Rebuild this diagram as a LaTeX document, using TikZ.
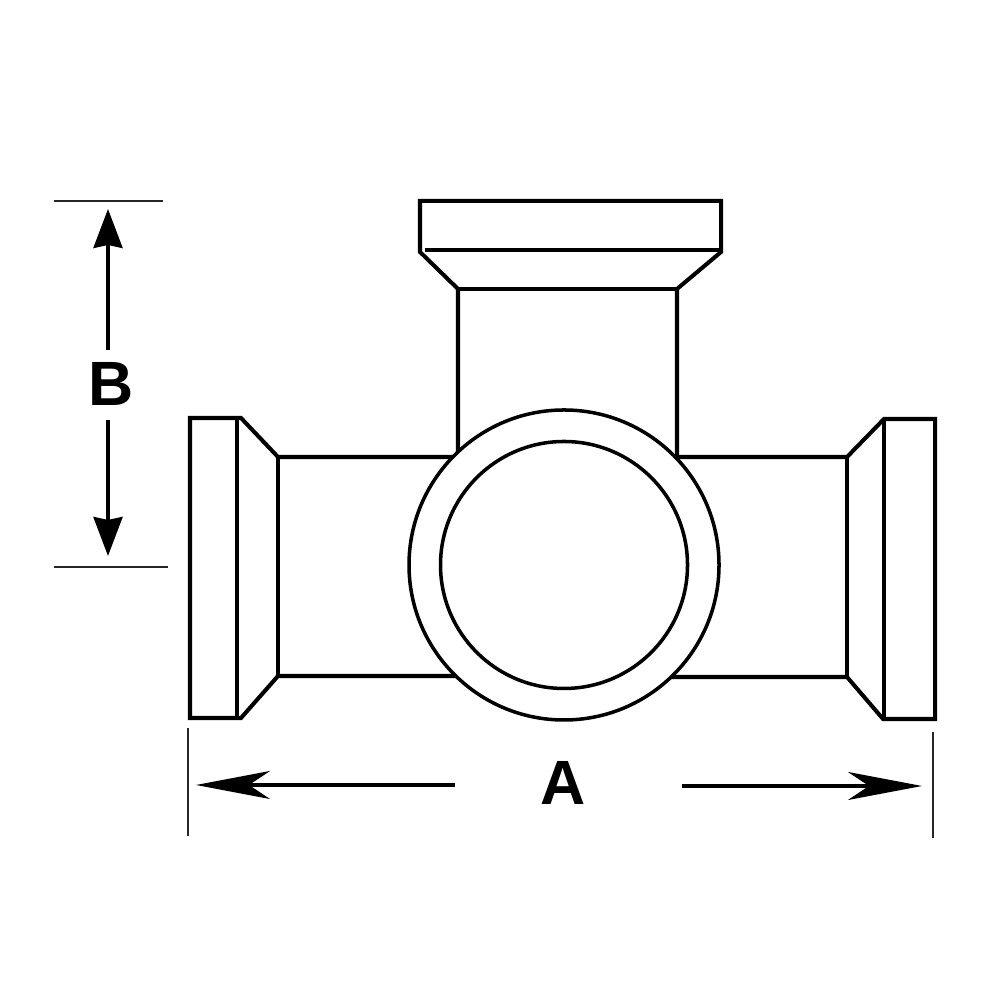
\documentclass[tikz,border=0pt]{standalone}
\usepackage{fontspec}
\setsansfont{Liberation Sans}
\usetikzlibrary{arrows.meta}
\tikzstyle{body}=[draw=black,line width=1.15pt,line join=miter]
\tikzstyle{ring}=[circle,draw=black,line width=1pt,fill=white,inner sep=0pt]
\tikzstyle{ext}=[draw=black!85,line width=.4pt]
\tikzstyle{dimv}=[draw=black,line width=1pt,-{Stealth[length=.39cm,width=.29cm,inset=.03cm]}]
\tikzstyle{dimh}=[draw=black,line width=1pt,-{Stealth[length=.74cm,width=.28cm,inset=.21cm]}]
\tikzstyle{lab}=[font=\sffamily\bfseries\fontsize{17.8}{20}\selectfont,inner sep=0pt]

\begin{document}
\begin{tikzpicture}
\useasboundingbox (0,0) rectangle (10,10);
% top branch
\draw[body] (4.58,5.4) -- (4.58,7.11) -- (4.20,7.48) -- (4.20,7.99) -- (7.21,7.99) -- (7.21,7.48) -- (6.77,7.11) -- (6.77,5.4);
\draw[body] (4.58,7.11) -- (6.77,7.11);
\draw[body] (4.25,7.50) -- (7.19,7.50);
% left branch
\draw[body] (4.6,5.43) -- (2.78,5.43) -- (2.41,5.82) -- (1.90,5.82) -- (1.90,2.82) -- (2.41,2.82) -- (2.78,3.24) -- (4.6,3.24);
\draw[body] (2.78,5.43) -- (2.78,3.24);
\draw[body] (2.37,5.82) -- (2.37,2.82);
% right branch
\draw[body] (6.6,5.43) -- (8.47,5.43) -- (8.84,5.81) -- (9.35,5.81) -- (9.35,2.81) -- (8.83,2.81) -- (8.47,3.23) -- (6.6,3.23);
\draw[body] (8.47,5.43) -- (8.47,3.23);
\draw[body] (8.84,5.81) -- (8.84,2.81);
% front socket
\node[ring,minimum size=3.10cm] (outer) at (5.64,4.35) {};
\node[ring,minimum size=2.47cm] (inner) at (5.64,4.35) {};
% dimension B
\coordinate (bl1) at (.54,7.99); \coordinate (br1) at (1.63,7.99);
\coordinate (bl2) at (.54,4.33); \coordinate (br2) at (1.68,4.33);
\draw[ext] (bl1) -- (br1);
\draw[ext] (bl2) -- (br2);
\node[lab] (labB) at (1.11,6.16) {B};
\coordinate (bs1) at (1.08,6.50); \coordinate (bt1) at (1.08,7.91);
\coordinate (bs2) at (1.08,5.80); \coordinate (bt2) at (1.08,4.44);
\draw[dimv] (bs1) -- (bt1);
\draw[dimv] (bs2) -- (bt2);
% dimension A
\coordinate (al1) at (1.88,2.72); \coordinate (al2) at (1.88,1.64);
\coordinate (ar1) at (9.33,2.68); \coordinate (ar2) at (9.33,1.62);
\draw[ext] (al1) -- (al2);
\draw[ext] (ar1) -- (ar2);
\node[lab] (labA) at (5.63,2.17) {A};
\coordinate (as1) at (4.55,2.15); \coordinate (at1) at (1.96,2.15);
\coordinate (as2) at (6.82,2.14); \coordinate (at2) at (9.22,2.14);
\draw[dimh] (as1) -- (at1);
\draw[dimh] (as2) -- (at2);
\end{tikzpicture}
\end{document}
